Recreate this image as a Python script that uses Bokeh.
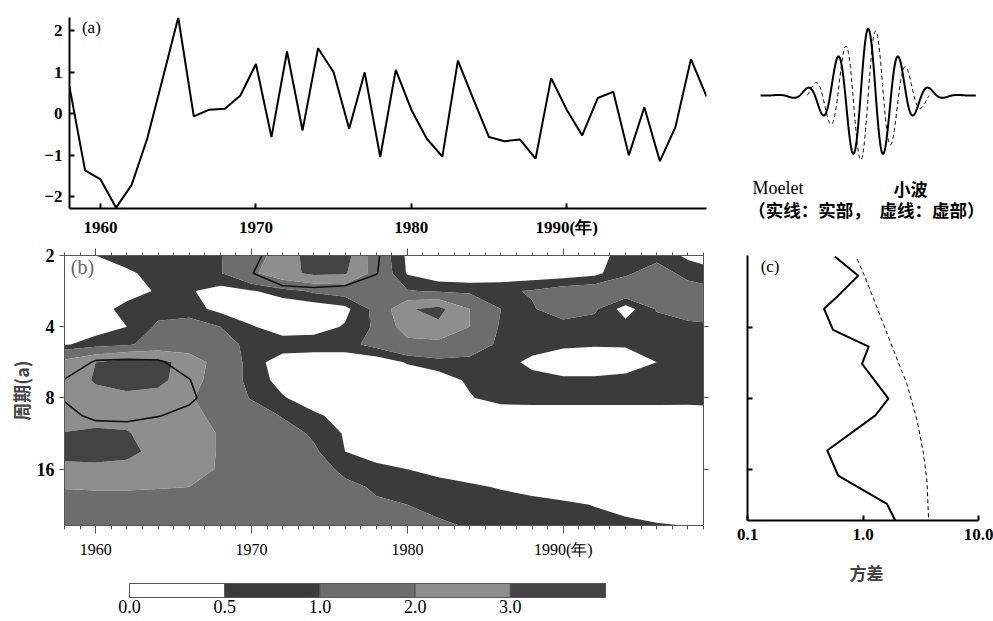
import numpy as np
from bokeh.plotting import figure
from bokeh.layouts import row, column
from bokeh.models import Range1d, FixedTicker, SingleIntervalTicker, LinearAxis, Label
from bokeh.embed import file_html
from bokeh.resources import INLINE
from bokeh.core.properties import value

SERIF = "Liberation Serif"
CJK = "Noto Sans CJK SC"

# ---------------- (a) annual series ----------------
years = list(range(1958, 2000))
series = [0.65, -1.36, -1.58, -2.26, -1.71, -0.60, 0.85, 2.32, -0.06, 0.10,
          0.12, 0.44, 1.20, -0.56, 1.50, -0.40, 1.58, 1.00, -0.36, 1.00,
          -1.04, 1.06, 0.10, -0.60, -1.03, 1.28, 0.35, -0.56, -0.66, -0.62,
          -1.08, 0.86, 0.10, -0.52, 0.38, 0.53, -1.00, 0.16, -1.14, -0.32,
          1.32, 0.42]
a_yticks = [-2, -1, 0, 1, 2]
a_xticks = [1960, 1970, 1980, 1990]

# ---------------- (b) wavelet power ----------------
grid_years = [1958, 1960, 1962, 1964, 1966, 1968, 1970, 1972, 1974, 1976, 1978,
              1980, 1982, 1984, 1986, 1988, 1990, 1992, 1994, 1996, 1998, 1999]
grid_log2_period = [1.0, 1.25, 1.5, 1.75, 2.0, 2.25, 2.5, 2.75, 3.0, 3.25,
                    3.5, 3.75, 4.0, 4.25, 4.5, 4.8]
P100 = [0.20,0.50,0.75,0.75,0.80, 0.95,1.60,2.40,3.50,3.40, 1.50,0.40,0.20,0.15,0.15, 0.20,0.20,0.30,0.70,0.80, 0.40,0.30]
P125 = [0.15,0.20,0.40,0.70,0.75, 0.95,1.80,2.70,3.20,3.10, 1.60,0.45,0.15,0.10,0.10, 0.15,0.20,0.35,0.90,1.30, 0.80,0.70]
P150 = [0.10,0.15,0.30,0.55,0.55, 0.30,0.45,0.75,1.10,1.30, 1.30,1.05,0.90,0.85,0.90, 1.05,1.30,1.40,1.50,1.50, 1.30,1.20]
P175 = [0.10,0.30,0.65,0.80,0.70, 0.35,0.10,0.10,0.15,0.35, 1.20,2.90,3.30,2.00,1.00, 0.95,1.30,1.10,0.25,1.05, 1.30,1.30]
P200 = [0.15,0.30,0.50,1.10,1.30, 1.00,0.55,0.20,0.25,0.55, 1.10,2.50,2.80,2.00,0.90, 0.80,0.80,0.75,0.70,0.75, 0.85,0.90]
P225 = [0.45,0.70,0.90,1.30,1.50, 1.30,0.80,0.80,0.80,0.80, 1.20,1.70,1.70,1.30,0.90, 0.75,0.60,0.55,0.55,0.60, 0.75,0.80]
P250 = [2.30,3.00,3.50,3.40,2.50, 1.60,0.75,0.20,0.10,0.10, 0.15,0.55,0.80,0.85,0.75, 0.35,0.15,0.15,0.25,0.50, 0.75,0.80]
P275 = [2.40,3.10,3.50,3.30,2.40, 1.50,0.80,0.30,0.10,0.05, 0.05,0.10,0.20,0.60,0.80, 0.70,0.60,0.60,0.65,0.75, 0.85,0.90]
P300 = [2.50,2.70,2.70,2.60,2.10, 1.50,0.95,0.55,0.20,0.10, 0.05,0.05,0.10,0.45,0.75, 0.80,0.80,0.80,0.80,0.80, 0.75,0.75]
P325 = [2.50,2.80,2.80,2.60,2.20, 1.80,1.40,0.95,0.60,0.30, 0.10,0.05,0.05,0.05,0.05, 0.05,0.05,0.05,0.05,0.05, 0.10,0.15]
P350 = [3.05,3.10,3.05,2.70,2.30, 1.95,1.60,1.30,0.90,0.45, 0.15,0.05,0.05,0.05,0.05, 0.05,0.05,0.05,0.05,0.05, 0.05,0.05]
P375 = [3.50,3.50,3.35,2.60,2.30, 1.95,1.60,1.40,1.10,0.50, 0.15,0.05,0.05,0.05,0.05, 0.05,0.05,0.05,0.05,0.05, 0.05,0.05]
P400 = [2.60,2.70,2.60,2.40,2.20, 1.95,1.60,1.40,1.20,0.90, 0.70,0.50,0.30,0.15,0.05, 0.05,0.05,0.05,0.05,0.05, 0.05,0.05]
P425 = [2.05,2.10,2.10,2.05,2.00, 1.80,1.60,1.45,1.30,1.10, 0.95,0.85,0.75,0.60,0.45, 0.30,0.20,0.15,0.10,0.10, 0.10,0.10]
P450 = [1.60,1.60,1.60,1.60,1.55, 1.50,1.40,1.30,1.20,1.12, 1.05,1.00,0.92,0.85,0.78, 0.70,0.60,0.48,0.35,0.25, 0.20,0.20]
P480 = [1.50,1.50,1.50,1.50,1.45, 1.45,1.40,1.38,1.35,1.30, 1.20,1.12,1.05,0.98,0.92, 0.85,0.78,0.70,0.62,0.55, 0.50,0.45]

# significance ratio (contour drawn where it equals 1)
S100 = [0.5,0.5,0.5,0.5,0.5, 0.6,0.8,1.4,1.5,1.4, 1.05,0.6,0.5,0.5,0.5, 0.5,0.5,0.5,0.5,0.5, 0.5,0.5]
S125 = [0.5,0.5,0.5,0.5,0.5, 0.6,0.98,1.35,1.4,1.35, 1.02,0.6,0.5,0.5,0.5, 0.5,0.5,0.5,0.5,0.5, 0.5,0.5]
S150 = [0.5,0.5,0.5,0.5,0.5, 0.5,0.7,0.85,0.9,0.85, 0.7,0.5,0.5,0.5,0.5, 0.5,0.5,0.5,0.5,0.5, 0.5,0.5]
S175 = [0.5,0.5,0.5,0.5,0.5, 0.5,0.5,0.5,0.5,0.5, 0.5,0.5,0.5,0.5,0.5, 0.5,0.5,0.5,0.5,0.5, 0.5,0.5]
S200 = [0.5,0.5,0.5,0.5,0.5, 0.5,0.5,0.5,0.5,0.5, 0.5,0.5,0.5,0.5,0.5, 0.5,0.5,0.5,0.5,0.5, 0.5,0.5]
S225 = [0.6,0.6,0.6,0.6,0.6, 0.5,0.5,0.5,0.5,0.5, 0.5,0.5,0.5,0.5,0.5, 0.5,0.5,0.5,0.5,0.5, 0.5,0.5]
S250 = [0.7,1.05,1.08,1.06,0.8, 0.5,0.5,0.5,0.5,0.5, 0.5,0.5,0.5,0.5,0.5, 0.5,0.5,0.5,0.5,0.5, 0.5,0.5]
S275 = [1.02,1.35,1.4,1.3,1.02, 0.6,0.5,0.5,0.5,0.5, 0.5,0.5,0.5,0.5,0.5, 0.5,0.5,0.5,0.5,0.5, 0.5,0.5]
S300 = [1.05,1.35,1.4,1.3,1.1, 0.7,0.5,0.5,0.5,0.5, 0.5,0.5,0.5,0.5,0.5, 0.5,0.5,0.5,0.5,0.5, 0.5,0.5]
S325 = [0.8,1.15,1.2,1.02,0.85, 0.6,0.5,0.5,0.5,0.5, 0.5,0.5,0.5,0.5,0.5, 0.5,0.5,0.5,0.5,0.5, 0.5,0.5]
S350 = [0.6,0.6,0.6,0.6,0.6, 0.5,0.5,0.5,0.5,0.5, 0.5,0.5,0.5,0.5,0.5, 0.5,0.5,0.5,0.5,0.5, 0.5,0.5]
S375 = [0.5,0.5,0.5,0.5,0.5, 0.5,0.5,0.5,0.5,0.5, 0.5,0.5,0.5,0.5,0.5, 0.5,0.5,0.5,0.5,0.5, 0.5,0.5]
S400 = [0.5,0.5,0.5,0.5,0.5, 0.5,0.5,0.5,0.5,0.5, 0.5,0.5,0.5,0.5,0.5, 0.5,0.5,0.5,0.5,0.5, 0.5,0.5]
S425 = [0.5,0.5,0.5,0.5,0.5, 0.5,0.5,0.5,0.5,0.5, 0.5,0.5,0.5,0.5,0.5, 0.5,0.5,0.5,0.5,0.5, 0.5,0.5]
S450 = [0.5,0.5,0.5,0.5,0.5, 0.5,0.5,0.5,0.5,0.5, 0.5,0.5,0.5,0.5,0.5, 0.5,0.5,0.5,0.5,0.5, 0.5,0.5]
S480 = [0.5,0.5,0.5,0.5,0.5, 0.5,0.5,0.5,0.5,0.5, 0.5,0.5,0.5,0.5,0.5, 0.5,0.5,0.5,0.5,0.5, 0.5,0.5]

power_levels = [0.0, 0.5, 1.0, 2.0, 3.0, 4.0]
power_colors = ["#ffffff", "#3b3b3b", "#6d6d6d", "#8e8e8e", "#434343"]
level_labels = ["0.0", "0.5", "1.0", "2.0", "3.0"]
period_tick_pos = [1, 2, 3, 4]
period_tick_text = ["2", "4", "8", "16"]

# ---------------- (c) global wavelet spectrum ----------------
gws_period = [2.0, 2.41, 2.93, 3.33, 4.09, 4.82, 5.70, 8.02, 9.44, 13.3, 17.0, 22.4, 26.3]
gws_variance = [0.57, 0.91, 0.61, 0.46, 0.55, 1.12, 0.98, 1.66, 1.28, 0.49, 0.61, 1.61, 1.90]
sig_period = [2.05, 2.33, 3.28, 5.0, 6.9, 9.9, 13.7, 17.9, 26.3]
sig_variance = [0.89, 1.00, 1.32, 1.84, 2.39, 2.94, 3.34, 3.58, 3.70]
c_xticks = [0.1, 1, 10]

# Morlet mother wavelet (omega0 = 6)
omega0 = 6.0

LEFT_B, RIGHT_B = 64, 17          # shared borders of panel (b) and the colour bar
RC_LEFT_B, RC_RIGHT_B = 27, 8     # shared borders of the right column


def style_axis(ax, size="17px", bold=True, color="black", lw=1, tin=0, tout=0, standoff=6):
    ax.axis_line_color = color
    ax.axis_line_width = lw
    ax.major_tick_line_color = color
    ax.major_tick_line_width = lw
    ax.major_tick_in = tin
    ax.major_tick_out = tout
    ax.minor_tick_line_color = None
    ax.major_label_text_font = SERIF
    ax.major_label_text_font_size = size
    ax.major_label_text_font_style = "bold" if bold else "normal"
    ax.major_label_text_color = "black"
    ax.major_label_standoff = standoff


def hide_labels(ax):
    ax.major_label_text_font_size = "1px"
    ax.major_label_text_color = None
    ax.major_label_standoff = 0


# ---------- panel (a) ----------
pa = figure(width=720, height=240, x_range=Range1d(1958, 1999), y_range=Range1d(-2.28, 2.32),
            x_axis_type=None, y_axis_type=None, output_backend="svg", toolbar_location=None,
            min_border_left=69, min_border_right=14, min_border_top=17, min_border_bottom=32)
pa.outline_line_color = None
pa.line(years, series, line_color="black", line_width=2)
axa = LinearAxis(ticker=FixedTicker(ticks=a_xticks), major_label_overrides={1990: "1990(年)"})
style_axis(axa, size="17px", lw=2, tin=5, standoff=9)
pa.add_layout(axa, "below")
aya = LinearAxis(ticker=FixedTicker(ticks=a_yticks), major_label_overrides={-2: "−2", -1: "−1"})
style_axis(aya, size="17px", lw=2, tin=5, standoff=7)
pa.add_layout(aya, "left")
pa.add_layout(Label(x=1958.8, y=2.30, text="(a)", text_align="left", text_baseline="top",
                    text_font=SERIF, text_font_size="17px", text_color="black"))

# ---------- panel (b) ----------
pb = figure(width=720, height=325, x_range=Range1d(1958, 1999), y_range=Range1d(4.79, 1.0),
            x_axis_type=None, y_axis_type=None, output_backend="svg", toolbar_location=None,
            min_border_left=LEFT_B, min_border_right=RIGHT_B, min_border_top=15, min_border_bottom=40)
pb.outline_line_color = "#777777"
power = np.array([P100, P125, P150, P175, P200, P225, P250, P275, P300, P325,
                  P350, P375, P400, P425, P450, P480])
signif = np.array([S100, S125, S150, S175, S200, S225, S250, S275, S300, S325,
                   S350, S375, S400, S425, S450, S480])
gx = np.array(grid_years, dtype=float)
gy = np.array(grid_log2_period)
pb.contour(x=gx, y=gy, z=power, levels=power_levels, fill_color=power_colors)
pb.contour(x=gx, y=gy, z=signif, levels=[1.0], line_color="#111111", line_width=1.6)

for side in ("below", "above"):
    ax = LinearAxis(ticker=SingleIntervalTicker(interval=10, num_minor_ticks=10))
    style_axis(ax, size="16px", bold=False, color="#555555", lw=1,
               tout=8 if side == "below" else 7, standoff=7)
    ax.minor_tick_line_color = "#555555"
    ax.minor_tick_out = 4 if side == "below" else 3
    ax.minor_tick_in = 0
    if side == "below":
        ax.major_label_overrides = {1990: "1990(年)"}
    else:
        hide_labels(ax)
    pb.add_layout(ax, side)

ayb = LinearAxis(ticker=FixedTicker(ticks=period_tick_pos),
                 major_label_overrides=dict(zip(period_tick_pos, period_tick_text)))
style_axis(ayb, size="18px", color="#555555", tout=5, standoff=5)
ayb.axis_label = "周期(a)"
ayb.axis_label_text_font = CJK
ayb.axis_label_text_font_style = "bold"
ayb.axis_label_text_font_size = "18px"
ayb.axis_label_standoff = 0
pb.add_layout(ayb, "left")
ayr = LinearAxis(ticker=FixedTicker(ticks=period_tick_pos[1:]))
style_axis(ayr, size="1px", color="#555555", tout=5, standoff=0)
hide_labels(ayr)
pb.add_layout(ayr, "right")
pb.add_layout(Label(x=1958.4, y=1.0, text="(b)", text_align="left", text_baseline="top",
                    text_font=SERIF, text_font_size="20px", text_color="#666666"))

# ---------- colour bar ----------
pbar = figure(width=720, height=56, x_range=Range1d(-0.683, 6.029), y_range=Range1d(-1.714, 2.286),
              x_axis_type=None, y_axis_type=None, output_backend="svg", toolbar_location=None,
              min_border_left=LEFT_B, min_border_right=RIGHT_B, min_border_top=0, min_border_bottom=0)
pbar.outline_line_color = None
idx = list(range(len(power_colors)))
pbar.quad(left=idx, right=[i + 1 for i in idx], bottom=0, top=1, fill_color=power_colors,
          line_color="#555555", line_width=1)
pbar.text(x=idx, y=-0.64, text=level_labels, text_align="center", text_baseline="middle",
          text_font=value(SERIF), text_font_size="18px", text_color="black")

# ---------- wavelet icon ----------
pw = figure(width=273, height=240, x_range=Range1d(-4.149, 4.032), y_range=Range1d(-2.174, 1.424),
            x_axis_type=None, y_axis_type=None, output_backend="svg", toolbar_location=None,
            min_border_left=RC_LEFT_B, min_border_right=RC_RIGHT_B, min_border_top=0, min_border_bottom=0)
pw.outline_line_color = None
t = np.linspace(-3.7, 3.7, 700)
env = np.exp(-t ** 2 / 2.0)
pw.line(t, np.cos(omega0 * t) * env, line_color="black", line_width=2)
ti = t[np.abs(t) <= 2.1]
pw.line(ti, np.sin(omega0 * ti) * np.exp(-ti ** 2 / 2.0), line_color="black", line_width=1,
        line_dash="4 3")
pw.add_layout(Label(x=-3.98, y=-1.39, text="Moelet", text_align="left", text_baseline="middle",
                    text_font=SERIF, text_font_size="18px", text_color="black"))
pw.add_layout(Label(x=0.87, y=-1.39, text="小波", text_align="left", text_baseline="middle",
                    text_font=CJK, text_font_style="bold", text_font_size="17px", text_color="black"))
pw.add_layout(Label(x=-4.12, y=-1.71, text="（实线：实部，\u3000虚线：虚部）", text_align="left",
                    text_baseline="middle", text_font=CJK, text_font_style="bold",
                    text_font_size="17.5px", text_color="black"))

# ---------- panel (c) ----------
pc = figure(width=273, height=381, x_axis_type="log", x_range=Range1d(0.1, 10 ** (1 + 7 / 115.5)),
            y_range=Range1d(4.72, 0.985), y_axis_type=None, output_backend="svg",
            toolbar_location=None, min_border_left=RC_LEFT_B, min_border_right=RC_RIGHT_B,
            min_border_top=15, min_border_bottom=101)
pc.outline_line_color = None
pc.xgrid.visible = False
axc = pc.xaxis[0]
axc.ticker = FixedTicker(ticks=c_xticks)
axc.bounds = (0.1, 10)
style_axis(axc, size="17px", lw=2, tin=5, standoff=8)
axc.major_label_overrides = {0.1: "0.1", 1: "1.0", 10: "10.0"}
axc.axis_label = "方差"
axc.axis_label_text_font = CJK
axc.axis_label_text_font_style = "bold"
axc.axis_label_text_font_size = "17px"
axc.axis_label_standoff = 17
ayc = LinearAxis(ticker=FixedTicker(ticks=period_tick_pos[1:]))
style_axis(ayc, size="1px", lw=2, tin=5, standoff=0)
hide_labels(ayc)
pc.add_layout(ayc, "left")
pc.line(gws_variance, np.log2(gws_period), line_color="black", line_width=2)
pc.line(sig_variance, np.log2(sig_period), line_color="black", line_width=1, line_dash="4 3")
pc.add_layout(Label(x=0.13, y=1.0, text="(c)", text_align="left", text_baseline="top",
                    text_font=SERIF, text_font_size="17px", text_color="black"))

# panel (a) is wrapped in its own row so that its frame keeps its own left edge
layout = row(column(row(pa, spacing=0), pb, pbar, spacing=0), column(pw, pc, spacing=0), spacing=0)
open("out.html", "w").write(file_html(layout, INLINE))
